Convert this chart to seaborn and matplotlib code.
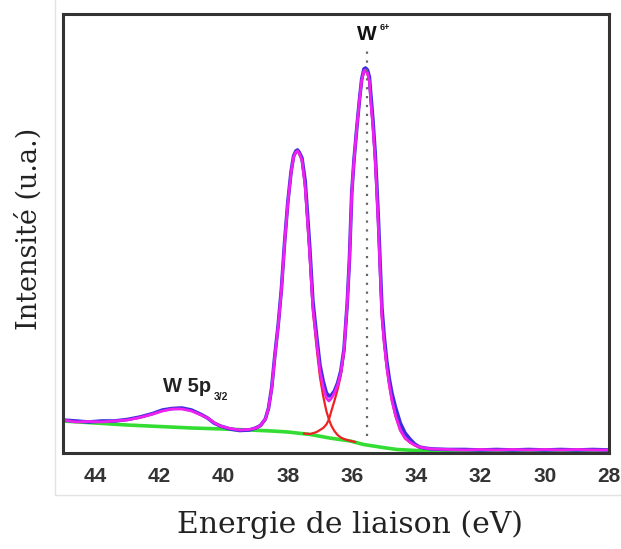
import numpy as np
import pandas as pd
import seaborn as sns
import matplotlib.pyplot as plt
from matplotlib.lines import Line2D
from matplotlib.ticker import MultipleLocator

# energie de liaison (eV) et intensite
env_x = [45.0, 44.6, 44.2, 43.8, 43.4, 43.0, 42.6, 42.2, 41.9, 41.6, 41.3, 41.0, 40.7, 40.5,
         40.3, 40.1, 39.8, 39.5, 39.2, 39.0, 38.85, 38.7, 38.6, 38.5, 38.4, 38.3, 38.2, 38.1,
         38.0, 37.9, 37.82, 37.75, 37.7, 37.65, 37.56, 37.46, 37.39, 37.32, 37.22, 37.1, 37.0,
         36.9, 36.8, 36.72, 36.64, 36.55, 36.45, 36.35, 36.25, 36.15, 36.08, 36.01, 35.94,
         35.85, 35.77, 35.7, 35.63, 35.58, 35.52, 35.46, 35.42, 35.35, 35.28, 35.23, 35.18,
         35.13, 35.07, 35.0, 34.92, 34.84, 34.76, 34.65, 34.5, 34.35, 34.2, 34.05, 33.9, 33.75,
         33.5, 33.0, 32.5, 32.0, 31.5, 31.0, 30.5, 30.0, 29.5, 29.0, 28.5, 28.0]
# enveloppe (fit)
env_y = [33, 31, 31.5, 31, 32, 33, 35.5, 39, 42, 44, 44, 42, 38, 35,
         30.5, 27, 24.5, 23, 23.5, 25, 27.5, 34, 45, 65, 98, 127, 163, 210,
         250, 280, 296, 301, 302, 300, 293, 266, 233, 200, 145, 110, 82,
         66, 55, 52, 55, 60, 68, 80, 103, 150, 195, 260, 293,
         326, 353, 373, 382, 383, 380, 372, 353, 326, 293, 260, 226,
         185, 136, 110, 86, 68, 53, 38, 23, 15, 11, 8, 6, 5,
         4, 3.5, 3, 3.5, 3, 3.5, 3, 3.5, 3, 3.5, 3, 3]
# donnees experimentales
data_y = [33, 32, 31, 32, 32, 33.5, 36, 39.5, 43, 44.5, 45, 43, 38.5, 35,
          30, 27, 24, 22.5, 23, 25, 27.5, 34, 45, 66, 99, 128, 164, 211,
          251, 281, 297, 302, 303, 301, 295, 272, 240, 207, 152, 116, 88,
          72, 60, 57, 58, 62, 70, 82, 104, 150, 195, 260, 293,
          326, 353, 374, 384, 385, 383, 376, 360, 333, 300, 268, 234,
          193, 145, 117, 92, 74, 60, 46, 30, 20, 14, 9, 6, 5,
          4, 3.5, 3.5, 3, 3.5, 3, 3.5, 3, 3.5, 3, 3.5, 3]

# fond (Shirley)
bg_x = [45.0, 44.0, 43.0, 42.0, 41.0, 40.0, 39.2, 38.5, 38.0, 37.3, 36.7, 36.06, 35.64,
        35.04, 34.6, 34.0, 33.0, 28.0]
bg_y = [32, 30, 28, 26.5, 25, 24, 23, 22, 21, 18.5, 15, 12, 8.5, 5.5, 3.5, 2.5, 2, 2]

# composantes W6+ 4f5/2 et 4f7/2
comp1_x = [39.3, 39.0, 38.85, 38.7, 38.6, 38.5, 38.4, 38.3, 38.2, 38.1, 38.0, 37.9, 37.82,
           37.75, 37.7, 37.65, 37.56, 37.46, 37.39, 37.32, 37.22, 37.1, 37.0, 36.9, 36.8,
           36.72, 36.64, 36.55, 36.45, 36.35, 36.25, 36.1, 35.9]
comp1_y = [23, 24.5, 27, 33.5, 44.5, 64.5, 97.5, 126.5, 162.5, 209.5, 249.5, 279.5, 295.5,
           300.5, 301.5, 299.5, 292.5, 265.5, 232, 198, 142, 104, 76, 57, 42,
           33.5, 27, 22, 18, 15.5, 14, 12.5, 11]
comp2_x = [37.5, 37.3, 37.1, 36.9, 36.8, 36.72, 36.64, 36.55, 36.45, 36.35, 36.25, 36.15,
           36.08, 36.01, 35.94, 35.85, 35.77, 35.7, 35.63, 35.58, 35.52, 35.46, 35.42, 35.35,
           35.28, 35.23, 35.18, 35.13, 35.07, 35.0, 34.92, 34.84, 34.76, 34.65, 34.5, 34.35,
           34.2, 34.05, 33.9]
comp2_y = [19.5, 19, 21, 25, 28.5, 33.5, 42.5, 52, 63.5, 77.5, 100, 148,
           194, 259, 292, 325, 352, 372, 381, 382, 379, 371, 352, 325,
           292, 259, 225, 184, 135, 109, 85, 67, 52, 37, 22.5, 14.5,
           10.5, 7.5, 5.5]

w6_pos = 35.55
w6_range = (17, 402)

major_ticks = [44, 42, 40, 38, 36, 34, 32, 30, 28]

sns.set_style("white")
plt.rcParams['font.family'] = ['Liberation Sans', 'DejaVu Sans']

fig = plt.figure(figsize=(6.21, 5.49), dpi=100)

# bords gris clair de l'image collee
fig.add_artist(Line2D([55 / 621, 55 / 621], [1 - 495 / 549, 1], color="#e2e2e2", lw=1))
fig.add_artist(Line2D([55 / 621, 1], [1 - 495 / 549, 1 - 495 / 549], color="#e2e2e2", lw=1))

ax = fig.add_axes([63 / 621, 1 - 453 / 549, 546 / 621, 439 / 549])

df_env = pd.DataFrame({"E": env_x, "fit": env_y, "data": data_y})
df_bg = pd.DataFrame({"E": bg_x, "I": bg_y})
df_c1 = pd.DataFrame({"E": comp1_x, "I": comp1_y})
df_c2 = pd.DataFrame({"E": comp2_x, "I": comp2_y})

sns.lineplot(data=df_bg, x="E", y="I", ax=ax, color="#33dd33", lw=2.6, estimator=None)
sns.lineplot(data=df_c1, x="E", y="I", ax=ax, color="#ee2222", lw=1.6, estimator=None)
sns.lineplot(data=df_c2, x="E", y="I", ax=ax, color="#ee2222", lw=1.6, estimator=None)
sns.lineplot(data=df_env, x="E", y="data", ax=ax, color="#3a2ee0", lw=2.6, estimator=None)
sns.lineplot(data=df_env, x="E", y="fit", ax=ax, color="#f020f0", lw=2.0, estimator=None)

ax.vlines(w6_pos, *w6_range, colors="#666666", linestyles=(0, (1, 3)), lw=1.6)

ax.text(w6_pos, 418, "W", ha="center", va="center", fontsize=15, fontweight="bold", color="#111")
ax.text(34.97, 425, "6+", ha="center", va="center", fontsize=6.5, fontweight="bold", color="#111")
ax.text(41.13, 67, "W 5p", ha="center", va="center", fontsize=14.5, fontweight="bold", color="#222")
ax.text(40.08, 56, "3/2", ha="center", va="center", fontsize=7.5, fontweight="bold", color="#222")

ax.set_xlim(45, 28)
ax.set_ylim(0, 439)
ax.set_xticks(major_ticks)
ax.xaxis.set_minor_locator(MultipleLocator(1))
ax.set_yticks([])
ax.tick_params(axis="x", which="major", direction="in", length=8, width=1.6, color="#222",
               labelsize=15, labelcolor="#333", pad=10)
ax.tick_params(axis="x", which="minor", direction="in", length=4.5, width=1.6, color="#222")
for lab in ax.get_xticklabels():
    lab.set_fontweight("bold")
for sp in ax.spines.values():
    sp.set_color("#333333")
    sp.set_linewidth(2.2)
ax.set_xlabel("")
ax.set_ylabel("")

fig.text(350 / 621, 1 - 525 / 549, "Energie de liaison (eV)", ha="center", va="center",
         fontsize=21.5, family="DejaVu Serif", color="#222")
fig.text(29 / 621, 1 - 229 / 549, "Intensité (u.a.)", ha="center", va="center",
         rotation=90, fontsize=19.5, family="DejaVu Serif", color="#222")

fig.savefig("out.png", dpi=100)
